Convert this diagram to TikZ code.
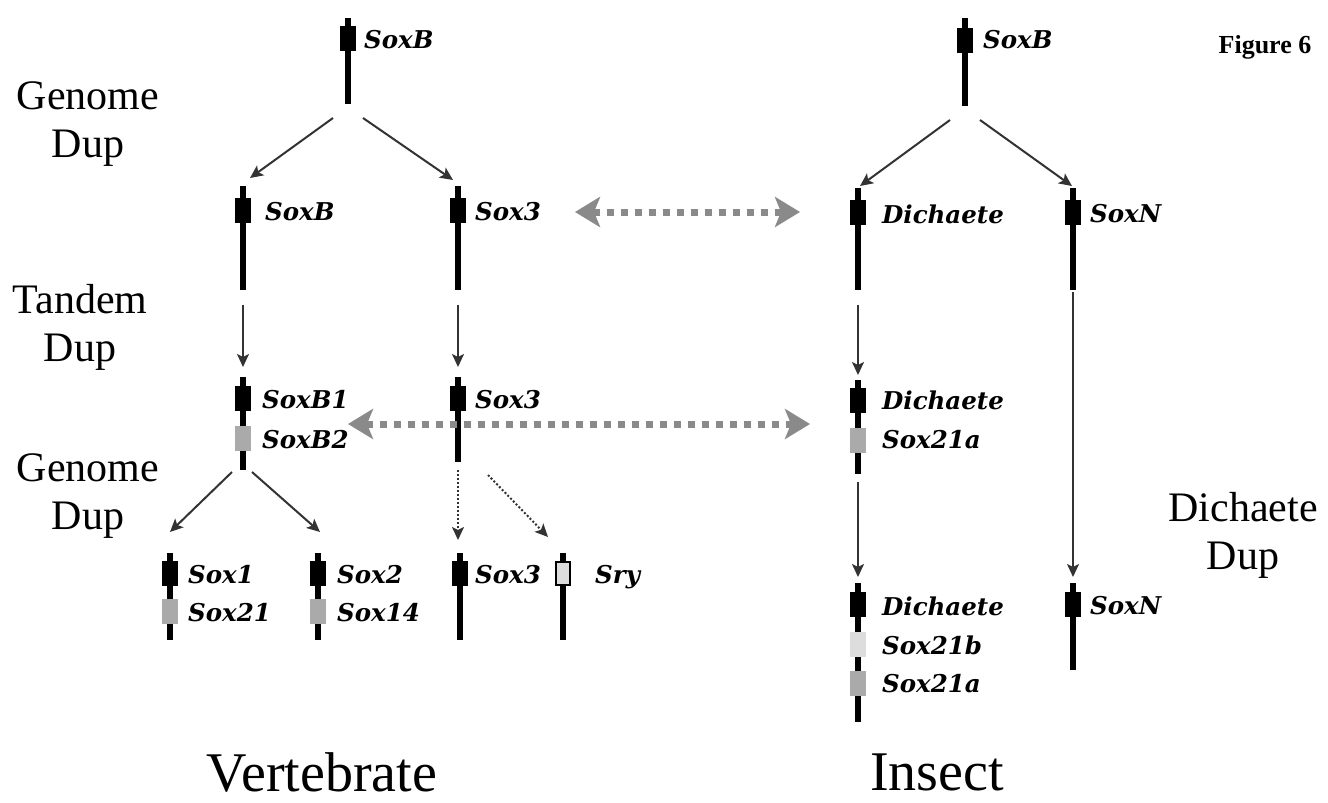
\documentclass[tikz,border=0pt]{standalone}
\usepackage{fontspec}
\setmainfont{Liberation Serif}
\newfontfamily\genefont{DejaVu Serif}
\usetikzlibrary{arrows.meta}
\definecolor{arrgray}{HTML}{333333}
\definecolor{dupgray}{HTML}{8A8A8A}
\definecolor{boxgray}{HTML}{AAAAAA}
\definecolor{boxlight}{HTML}{DDDDDD}
\tikzset{
  chrom/.style={line width=6.5pt, black},
  bbox/.style={rectangle, fill=black, minimum width=16pt, minimum height=25pt, inner sep=0pt},
  gbox/.style={rectangle, fill=boxgray, minimum width=16pt, minimum height=25pt, inner sep=0pt},
  lbox/.style={rectangle, fill=boxlight, minimum width=16pt, minimum height=25pt, inner sep=0pt},
  obox/.style={rectangle, fill=boxlight, draw=black, line width=2pt, minimum width=14pt, minimum height=23pt, inner sep=0pt},
  glab/.style={anchor=west, inner sep=0pt, font=\genefont\bfseries\itshape\fontsize{24.5}{28}\selectfont},
  side/.style={align=center, inner sep=0pt, font=\fontsize{42}{48}\selectfont},
  big/.style={inner sep=0pt, font=\fontsize{56}{60}\selectfont},
  arr/.style={draw=arrgray, line width=2pt, -{Stealth[length=13pt,width=12pt,inset=3pt]}},
  darr/.style={draw=arrgray, line width=2pt, dotted, -{Stealth[length=13pt,width=12pt,inset=3pt]}},
  duparr/.style={draw=dupgray, line width=7pt, dash pattern=on 7pt off 7pt,
     {Stealth[length=25pt,width=30pt,inset=6pt]}-{Stealth[length=25pt,width=30pt,inset=6pt]}},
}
\begin{document}
\begin{tikzpicture}[x=1pt,y=-1pt]
\useasboundingbox (0,0) rectangle (1328,803);
\fill[white] (0,0) rectangle (1328,803);

% ---------- chromosome lines ----------
\draw[chrom] (348,18) -- (348,104);
\draw[chrom] (965,18) -- (965,106);
\draw[chrom] (243,186) -- (243,290);
\draw[chrom] (458,186) -- (458,290);
\draw[chrom] (858,188) -- (858,290);
\draw[chrom] (1073,188) -- (1073,290);
\draw[chrom] (243,377) -- (243,470);
\draw[chrom] (458,377) -- (458,462);
\draw[chrom] (858,380) -- (858,474);
\draw[chrom] (170,553) -- (170,640);
\draw[chrom] (318,553) -- (318,640);
\draw[chrom] (460,553) -- (460,640);
\draw[chrom] (563,553) -- (563,640);
\draw[chrom] (858,583) -- (858,722);
\draw[chrom] (1073,583) -- (1073,670);

% ---------- gene boxes ----------
\node[bbox] (vSoxB) at (348,38) {};
\node[bbox] (iSoxB) at (965,40) {};
\node[bbox] (vSoxB2l) at (243,210) {};
\node[bbox] (vSox3a) at (458,210) {};
\node[bbox] (iDich1) at (858,212) {};
\node[bbox] (iSoxN1) at (1073,212) {};
\node[bbox] (vSoxB1) at (243,398) {};
\node[gbox] (vSoxB2) at (243,438) {};
\node[bbox] (vSox3b) at (458,398) {};
\node[bbox] (iDich2) at (858,400) {};
\node[gbox] (iSox21a1) at (858,440) {};
\node[bbox] (vSox1) at (170,573) {};
\node[gbox] (vSox21) at (170,611) {};
\node[bbox] (vSox2) at (318,573) {};
\node[gbox] (vSox14) at (318,611) {};
\node[bbox] (vSox3c) at (460,573) {};
\node[obox] (vSry) at (563,573) {};
\node[bbox] (iDich3) at (858,604) {};
\node[lbox] (iSox21b) at (858,644) {};
\node[gbox] (iSox21a2) at (858,683) {};
\node[bbox] (iSoxN2) at (1073,604) {};

% ---------- gene labels ----------
\node[glab] (lvSoxB) at (364,40) {SoxB};
\node[glab] (liSoxB) at (983,40) {SoxB};
\node[glab] at (265,212) {SoxB};
\node[glab] at (475,212) {Sox3};
\node[glab] at (882,214) {Dichaete};
\node[glab] at (1090,214) {SoxN};
\node[glab] at (262,400) {SoxB1};
\node[glab] at (262,440) {SoxB2};
\node[glab] at (475,400) {Sox3};
\node[glab] at (882,400) {Dichaete};
\node[glab] at (882,440) {Sox21a};
\node[glab] at (188,575) {Sox1};
\node[glab] at (188,613) {Sox21};
\node[glab] at (337,575) {Sox2};
\node[glab] at (337,613) {Sox14};
\node[glab] at (475,575) {Sox3};
\node[glab] at (595,577) {Sry};
\node[glab] at (882,606) {Dichaete};
\node[glab] at (882,645) {Sox21b};
\node[glab] at (882,684) {Sox21a};
\node[glab] at (1090,606) {SoxN};

% ---------- arrow end points ----------
\coordinate (a1s) at (333,118); \coordinate (a1e) at (250,178);
\coordinate (a2s) at (363,118); \coordinate (a2e) at (453,180);
\coordinate (a3s) at (950,120); \coordinate (a3e) at (860,186);
\coordinate (a4s) at (980,120); \coordinate (a4e) at (1072,186);
\coordinate (a5s) at (243,305); \coordinate (a5e) at (243,367);
\coordinate (a6s) at (458,305); \coordinate (a6e) at (458,367);
\coordinate (a7s) at (858,305); \coordinate (a7e) at (858,375);
\coordinate (a8s) at (1073,292); \coordinate (a8e) at (1073,577);
\coordinate (a9s) at (232,472); \coordinate (a9e) at (170,532);
\coordinate (a10s) at (252,472); \coordinate (a10e) at (320,532);
\coordinate (a11s) at (458,470); \coordinate (a11e) at (458,540);
\coordinate (a12s) at (488,475); \coordinate (a12e) at (548,537);
\coordinate (a13s) at (858,482); \coordinate (a13e) at (858,577);
\coordinate (d1s) at (575,212); \coordinate (d1e) at (800,212);
\coordinate (d2s) at (348,424); \coordinate (d2e) at (810,424);

\draw[arr] (a1s) -- (a1e);
\draw[arr] (a2s) -- (a2e);
\draw[arr] (a3s) -- (a3e);
\draw[arr] (a4s) -- (a4e);
\draw[arr] (a5s) -- (a5e);
\draw[arr] (a6s) -- (a6e);
\draw[arr] (a7s) -- (a7e);
\draw[arr] (a8s) -- (a8e);
\draw[arr] (a9s) -- (a9e);
\draw[arr] (a10s) -- (a10e);
\draw[darr] (a11s) -- (a11e);
\draw[darr] (a12s) -- (a12e);
\draw[arr] (a13s) -- (a13e);

\draw[duparr] (d1s) -- (d1e);
\draw[duparr] (d2s) -- (d2e);

% ---------- side labels ----------
\node[side] (gd1) at (88,124) {Genome\\Dup};
\node[side] (td) at (80,327) {Tandem\\Dup};
\node[side] (gd2) at (88,496) {Genome\\Dup};
\node[side] (dd) at (1243,535) {Dichaete\\Dup};
\node[big] (vert) at (322,772) {Vertebrate};
\node[big] (ins) at (937,772) {Insect};
\node[inner sep=0pt, font=\bfseries\fontsize{26}{28}\selectfont] (fig) at (1265,47) {Figure 6};
\end{tikzpicture}
\end{document}
